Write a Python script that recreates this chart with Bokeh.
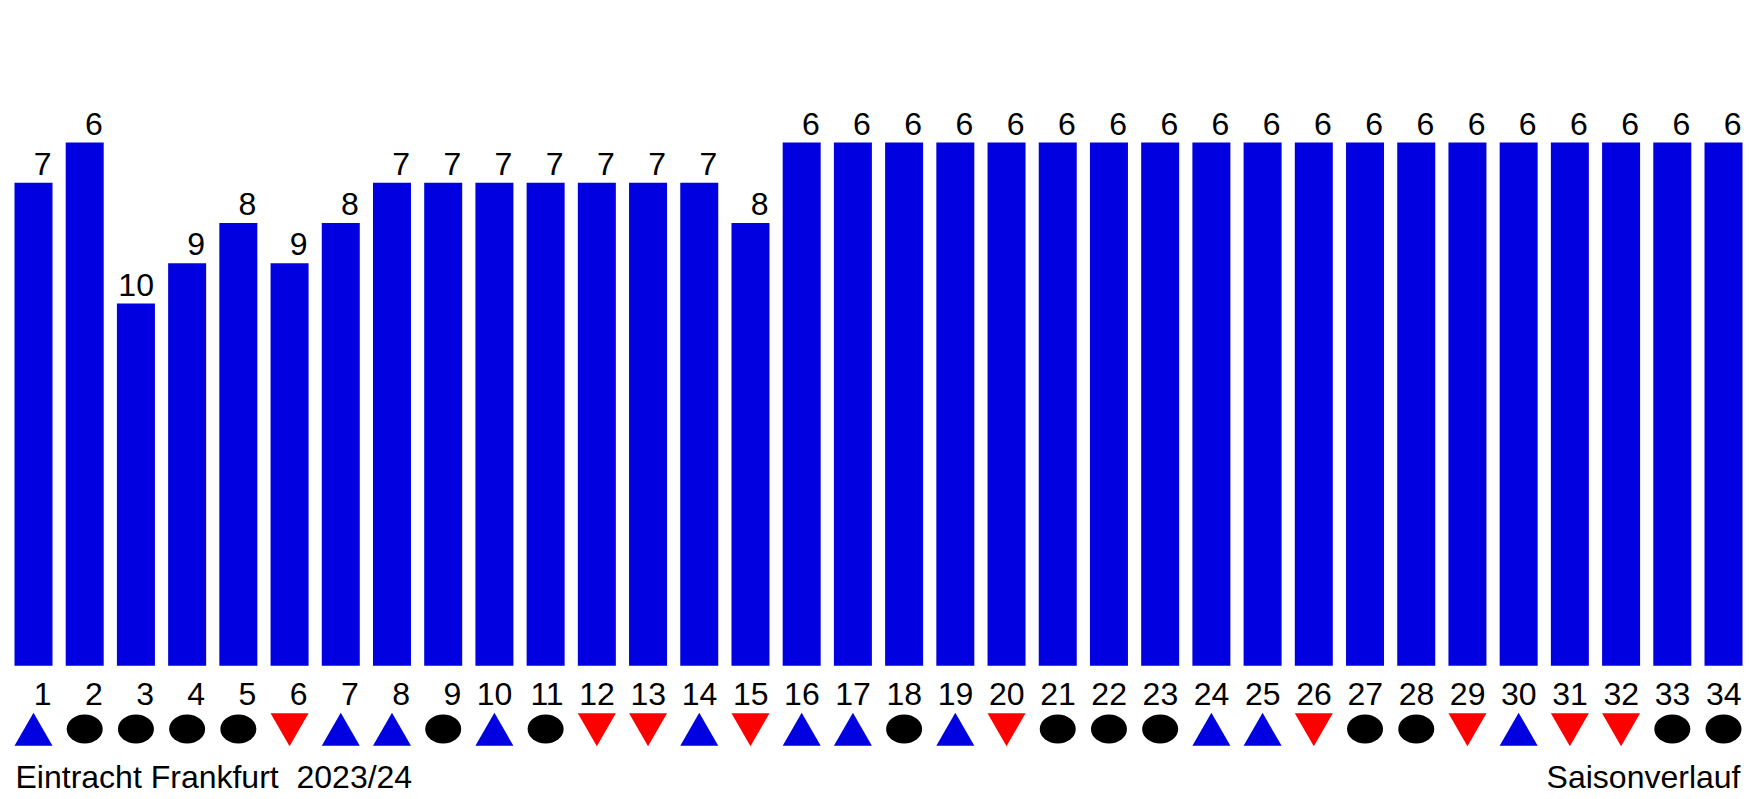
from bokeh.plotting import figure
from bokeh.models import ColumnDataSource, Label, Range1d
from bokeh.core.properties import value
from bokeh.embed import file_html
from bokeh.resources import INLINE

rounds = list(range(1, 35))
ranks = [7, 6, 10, 9, 8, 9, 8, 7, 7, 7, 7, 7, 7, 7, 8,
         6, 6, 6, 6, 6, 6, 6, 6, 6, 6, 6, 6, 6, 6, 6, 6, 6, 6, 6]
results = ["W", "D", "D", "D", "D", "L", "W", "W", "D", "W", "D", "L", "L", "W", "L",
           "W", "W", "D", "W", "L", "D", "D", "D", "W", "W", "L", "D", "D", "L", "W",
           "L", "L", "D", "D"]
n_teams = 18
title_left = "Eintracht Frankfurt\u00a0 2023/24"
title_right = "Saisonverlauf"

FONT = "Liberation Sans"
FS = "32px"
BAR = "#0000E0"
SHIFT = 12  # svg text sits lower than requested baseline

heights = [n_teams + 1 - r for r in ranks]
src = ColumnDataSource(dict(x=rounds, top=heights, rank=[str(r) for r in ranks],
                            rnd=[str(r) for r in rounds]))

W, H = 1750, 798
p = figure(width=W, height=H, output_backend="svg", toolbar_location=None,
           x_range=Range1d(0.3556, 34.527), y_range=Range1d(-3.298, 16.528),
           min_border=0, min_border_left=0, min_border_right=0,
           min_border_top=0, min_border_bottom=0)
p.axis.visible = False
p.grid.visible = False
p.outline_line_color = None
p.background_fill_color = "white"
p.border_fill_color = "white"

p.vbar(x="x", top="top", bottom=0, width=0.742, source=src, fill_color=BAR, line_color=None)

p.text(x="x", y="top", text="rank", source=src, text_align="right",
       text_baseline="alphabetic", x_offset=18, y_offset=-7 - SHIFT,
       text_font=value(FONT), text_font_size=FS, text_color="black")

p.text(x="x", y=-0.988, text="rnd", source=src, text_align="right",
       text_baseline="alphabetic", x_offset=18, y_offset=-SHIFT,
       text_font=value(FONT), text_font_size=FS, text_color="black")

wx = [x for x, r in zip(rounds, results) if r == "W"]
lx = [x for x, r in zip(rounds, results) if r == "L"]
dx = [x for x, r in zip(rounds, results) if r == "D"]

p.scatter(x=wx, y=[-1.715] * len(wx), marker="triangle", size=38,
          fill_color=BAR, line_color=None)
p.scatter(x=lx, y=[-1.452] * len(lx), marker="inverted_triangle", size=38,
          fill_color="#FF0000", line_color=None)
p.ellipse(x=dx, y=[-1.572] * len(dx), width=36, height=29,
          width_units="screen", height_units="screen",
          fill_color="black", line_color=None)

p.add_layout(Label(x=15, y=H - 788 + SHIFT, x_units="screen", y_units="screen", text=title_left,
                   text_font=FONT, text_font_size=FS, text_align="left",
                   text_baseline="alphabetic", text_color="black"))
p.add_layout(Label(x=1740, y=H - 788 + SHIFT, x_units="screen", y_units="screen", text=title_right,
                   text_font=FONT, text_font_size=FS, text_align="right",
                   text_baseline="alphabetic", text_color="black"))

open("out.html", "w").write(file_html(p, INLINE))
